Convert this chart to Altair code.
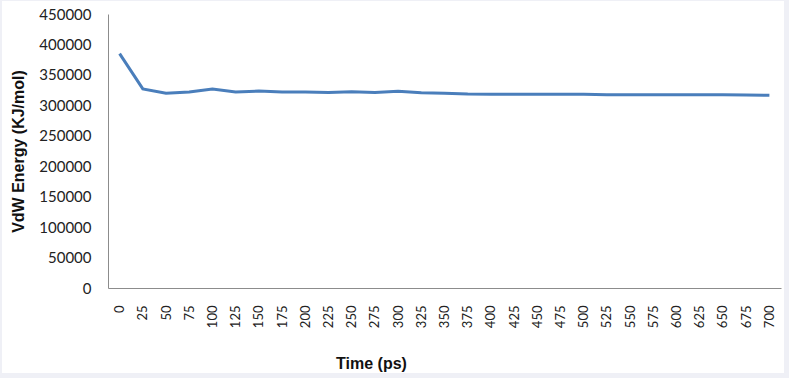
import altair as alt
import pandas as pd

times = list(range(0, 701, 25))
energy = [385000, 327000, 320000, 322000, 327000, 322000, 323500, 322000, 322000,
          321000, 322500, 321000, 323000, 320500, 320000, 318500, 318000, 318000,
          318000, 318000, 318000, 317500, 317500, 317500, 317500, 317500, 317500,
          317000, 316500]
y_ticks = list(range(0, 450001, 50000))

df = pd.DataFrame({"time": times, "energy": energy})

W, H = 673, 274

bg = alt.Chart(pd.DataFrame({"a": [0]})).mark_rect(color="white").encode(
    x=alt.value(-106), x2=alt.value(676), y=alt.value(-13), y2=alt.value(H + 85)
)

line = alt.Chart(df).mark_line(color="#4a7ebb", strokeWidth=3).encode(
    x=alt.X("time:Q",
            scale=alt.Scale(domain=[-12.5, 712.5], nice=False, zero=False),
            axis=alt.Axis(values=times, labelAngle=270, ticks=False, grid=False,
                          labelFont="Lato", labelFontSize=13, labelColor="#222",
                          labelPadding=17, domainColor="#8c8c8c", labelFlush=False,
                          zindex=1,
                          title="Time (ps)", titleFont="Liberation Sans",
                          titleFontSize=16, titleFontWeight="bold", titleColor="#111",
                          titleX=263, titleY=67)),
    y=alt.Y("energy:Q",
            scale=alt.Scale(domain=[0, 450000], nice=False),
            axis=alt.Axis(values=y_ticks, format="d", ticks=False, grid=False,
                          labelFont="Lato", labelFontSize=15, labelColor="#222",
                          labelPadding=17, domainColor="#8c8c8c", zindex=1,
                          title="VdW Energy (KJ/mol)", titleFont="Liberation Sans",
                          titleFontSize=16, titleFontWeight="bold", titleColor="#111",
                          titlePadding=12)),
)

chart = alt.layer(bg, line).properties(
    width=W, height=H,
    autosize=alt.AutoSizeParams(type="none"),
    padding={"left": 108, "top": 14, "right": 8, "bottom": 90},
    background="#eff0f6",
).configure_view(stroke=None)

chart.save("out.html", embed_options={"renderer": "svg", "actions": False})
